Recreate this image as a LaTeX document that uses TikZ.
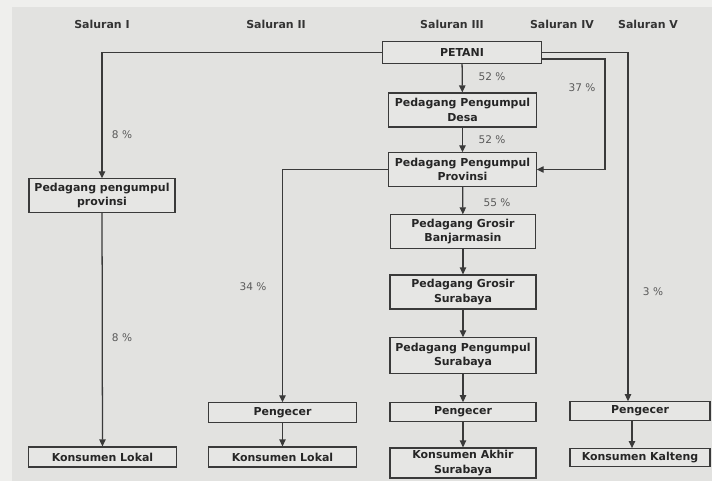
\documentclass[tikz,border=0pt]{standalone}
\usepackage{fontspec}
\setmainfont{DejaVu Sans}
\usepackage{tikz}
\usetikzlibrary{arrows.meta,positioning,calc}
\usepackage{xcolor}
\definecolor{pagebg}{HTML}{EFEFED}
\definecolor{panelbg}{HTML}{E2E2E0}
\definecolor{boxbg}{HTML}{E6E6E4}
\definecolor{linec}{HTML}{3A3A3A}
\definecolor{pctc}{HTML}{5A5A5A}

\tikzset{
  chanbox/.style={draw=linec, fill=boxbg, line width=0.8pt, align=center, inner sep=1pt,
    font=\fontsize{7.8}{10.5}\selectfont\bfseries, text=black!85},
  flow/.style={draw=linec, line width=0.9pt, -{Triangle[length=5pt,width=4.5pt]}},
  pct/.style={font=\fontsize{7.5}{9}\selectfont, text=pctc},
  head/.style={font=\fontsize{7.8}{9}\selectfont\bfseries, text=black!80}
}

\begin{document}
\begin{tikzpicture}[x=0.025cm, y=-0.025cm]
  \fill[pagebg] (0,0) rectangle (712,481);
  \fill[panelbg] (12,7) rectangle (712,481);

  \node[head] (h1) at (102,24) {Saluran I};
  \node[head] (h2) at (276,24) {Saluran II};
  \node[head] (h3) at (452,24) {Saluran III};
  \node[head] (h4) at (562,24) {Saluran IV};
  \node[head] (h5) at (648,24) {Saluran V};

  \node[chanbox, minimum width=3.98cm, minimum height=0.53cm] (petani) at (462,52.5) {PETANI};
  \node[chanbox, minimum width=3.68cm, minimum height=0.85cm] (desa) at (462.5,110) {Pedagang Pengumpul\\Desa};
  \node[chanbox, minimum width=3.68cm, minimum height=0.83cm] (prov) at (462.5,169.5) {Pedagang Pengumpul\\Provinsi};
  \node[chanbox, minimum width=3.62cm, minimum height=0.83cm] (grosbjm) at (463,231.5) {Pedagang Grosir\\Banjarmasin};
  \node[chanbox, minimum width=3.65cm, minimum height=0.85cm] (grossby) at (463,292) {Pedagang Grosir\\Surabaya};
  \node[chanbox, minimum width=3.65cm, minimum height=0.88cm] (pengsby) at (463,355.5) {Pedagang Pengumpul\\Surabaya};
  \node[chanbox, minimum width=3.65cm, minimum height=0.46cm] (ecer3) at (463,412) {Pengecer};
  \node[chanbox, minimum width=3.65cm, minimum height=0.75cm] (akhir) at (463,463) {Konsumen Akhir\\Surabaya};

  \node[chanbox, minimum width=3.65cm, minimum height=0.83cm] (prov1) at (102,195.5) {Pedagang pengumpul\\provinsi};
  \node[chanbox, minimum width=3.68cm, minimum height=0.5cm] (lokal1) at (102.5,457) {Konsumen Lokal};

  \node[chanbox, minimum width=3.68cm, minimum height=0.48cm] (ecer2) at (282.5,412.5) {Pengecer};
  \node[chanbox, minimum width=3.68cm, minimum height=0.5cm] (lokal2) at (282.5,457) {Konsumen Lokal};

  \node[chanbox, minimum width=3.5cm, minimum height=0.46cm] (ecer5) at (640,411) {Pengecer};
  \node[chanbox, minimum width=3.5cm, minimum height=0.44cm] (kalteng) at (640,457.5) {Konsumen Kalteng};

  \coordinate (s4) at (605,0);
  \coordinate (s5) at (628,0);

  \draw[flow] (petani.west) -| (prov1.north);
  \draw[flow] (prov1) -- (lokal1);
  \draw[flow] (prov.west) -| (ecer2.north);
  \draw[flow] (ecer2) -- (lokal2);
  \draw[flow] (petani) -- (desa);
  \draw[flow] (desa) -- (prov);
  \draw[flow] (prov) -- (grosbjm);
  \draw[flow] (grosbjm) -- (grossby);
  \draw[flow] (grossby) -- (pengsby);
  \draw[flow] (pengsby) -- (ecer3);
  \draw[flow] (ecer3) -- (akhir);
  \draw[flow] ([yshift=-0.16cm]petani.east) -| (s4 |- prov.east) -- (prov.east);
  \draw[flow] (petani.east) -| (s5 |- ecer5.north);
  \draw[flow] ([xshift=-0.2cm]ecer5.south) -- ([xshift=-0.2cm]kalteng.north);

  \node[pct] (p1) at (122,135) {8 \%};
  \node[pct] (p2) at (122,338) {8 \%};
  \node[pct] (p3) at (253,287) {34 \%};
  \node[pct] (p4) at (492,77) {52 \%};
  \node[pct] (p5) at (492,140) {52 \%};
  \node[pct] (p6) at (497,203) {55 \%};
  \node[pct] (p7) at (582,88) {37 \%};
  \node[pct] (p8) at (653,292) {3 \%};
\end{tikzpicture}
\end{document}
